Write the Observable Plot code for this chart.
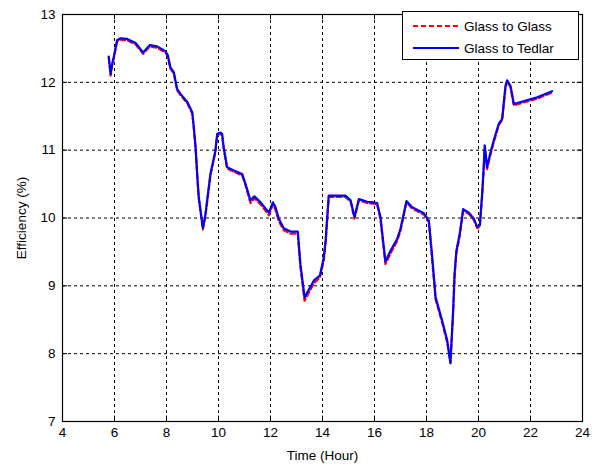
<!DOCTYPE html>
<html><head><meta charset="utf-8">
<script src="https://cdn.jsdelivr.net/npm/d3@7"></script>
<script src="https://cdn.jsdelivr.net/npm/@observablehq/plot@0.6"></script>
<style>
body{margin:0;background:#fff;font-family:"Liberation Sans",Arial,sans-serif}
#wrap{position:relative;width:594px;height:466px}
#legend{position:absolute;left:402px;top:11px;width:177px;height:49px;border:1px solid #000;background:#fff;box-sizing:border-box}
#legend svg{display:block}
</style></head>
<body><div id="wrap"><div id="chart"></div><div id="legend"></div></div>
<script>
const time = [5.78,5.85,5.91,5.97,6.10,6.23,6.49,6.81,7.10,7.36,7.64,7.96,8.05,8.15,8.28,8.41,8.54,8.80,8.99,9.05,9.12,9.18,9.24,9.31,9.40,9.50,9.69,9.88,9.95,10.08,10.14,10.20,10.33,10.59,10.91,11.04,11.23,11.38,11.62,11.94,12.09,12.19,12.32,12.51,12.77,13.05,13.15,13.31,13.67,13.90,14.05,14.12,14.24,14.88,15.08,15.23,15.40,15.72,15.97,16.10,16.23,16.42,16.62,16.87,17.00,17.23,17.45,17.90,18.09,18.22,18.35,18.60,18.80,18.92,19.03,19.08,19.15,19.28,19.41,19.63,19.82,19.95,20.05,20.14,20.20,20.24,20.33,20.45,20.59,20.78,20.91,21.04,21.10,21.23,21.36,21.62,22.26,22.83];
const glassToTedlar = [12.38,12.12,12.27,12.37,12.62,12.65,12.64,12.58,12.44,12.55,12.53,12.46,12.40,12.22,12.15,11.90,11.83,11.71,11.56,11.34,11.04,10.65,10.31,10.11,9.85,10.06,10.65,10.99,11.24,11.26,11.24,11.04,10.75,10.70,10.65,10.50,10.26,10.32,10.23,10.08,10.23,10.16,9.99,9.85,9.80,9.80,9.32,8.83,9.08,9.15,9.42,9.67,10.33,10.33,10.26,10.02,10.28,10.24,10.23,10.22,10.01,9.36,9.52,9.69,9.84,10.25,10.16,10.07,9.96,9.42,8.83,8.49,8.19,7.86,8.68,9.18,9.52,9.77,10.13,10.08,9.99,9.87,9.89,10.36,10.75,11.07,10.75,10.95,11.15,11.39,11.46,11.95,12.03,11.95,11.68,11.71,11.78,11.87];
const glassToGlass = [12.36,12.10,12.25,12.35,12.60,12.63,12.62,12.56,12.42,12.53,12.51,12.44,12.38,12.20,12.13,11.88,11.81,11.69,11.54,11.32,11.02,10.63,10.29,10.09,9.83,10.04,10.63,10.97,11.22,11.24,11.22,11.02,10.73,10.68,10.63,10.48,10.22,10.29,10.20,10.04,10.20,10.12,9.95,9.82,9.77,9.77,9.28,8.78,9.04,9.12,9.38,9.63,10.31,10.31,10.24,9.99,10.26,10.22,10.21,10.20,9.98,9.32,9.48,9.66,9.81,10.23,10.14,10.05,9.94,9.38,8.80,8.46,8.16,7.86,8.64,9.14,9.48,9.74,10.11,10.06,9.97,9.85,9.87,10.32,10.71,11.03,10.72,10.92,11.12,11.37,11.44,11.93,12.01,11.93,11.66,11.69,11.76,11.85];
const xTicks = [4,6,8,10,12,14,16,18,20,22,24];
const yTicks = [7,8,9,10,11,12,13];
const seriesNames = ["Glass to Glass","Glass to Tedlar"];
const seriesColors = ["#ff0000","#0000ff"];

const g2g = time.map((t,i)=>({t, v: glassToGlass[i]}));
const g2t = time.map((t,i)=>({t, v: glassToTedlar[i]}));
const font = "Liberation Sans, Arial, sans-serif";

const chart = Plot.plot({
  width: 594, height: 466,
  marginLeft: 62, marginRight: 12, marginTop: 14, marginBottom: 45,
  style: {fontFamily: font, fontSize: "13.5px", color: "#000", background: "#fff"},
  x: {domain: [4,24], ticks: xTicks},
  y: {domain: [7,13], ticks: yTicks},
  marks: [
    Plot.ruleX(xTicks.slice(1,-1), {stroke: "#000", strokeDasharray: "3,3", strokeWidth: 1}),
    Plot.ruleY(yTicks.slice(1,-1), {stroke: "#000", strokeDasharray: "3,3", strokeWidth: 1}),
    Plot.ruleX(xTicks, {y1: 7, y2: 7.08, stroke: "#000"}),
    Plot.ruleX(xTicks, {y1: 12.92, y2: 13, stroke: "#000"}),
    Plot.ruleY(yTicks, {x1: 4, x2: 4.2, stroke: "#000"}),
    Plot.ruleY(yTicks, {x1: 23.8, x2: 24, stroke: "#000"}),
    Plot.line(g2g, {x: "t", y: "v", stroke: seriesColors[0], strokeWidth: 2.2, strokeDasharray: "5,3"}),
    Plot.line(g2t, {x: "t", y: "v", stroke: seriesColors[1], strokeWidth: 2.2}),
    Plot.frame({stroke: "#000", strokeWidth: 1.2}),
    Plot.axisX({ticks: xTicks, tickFormat: d3.format("d"), tickSize: 0, tickPadding: 6, label: "Time (Hour)", labelAnchor: "center", labelOffset: 38, labelArrow: false}),
    Plot.axisY({ticks: yTicks, tickFormat: d3.format("d"), tickSize: 0, tickPadding: 7, label: "Efficiency (%)", labelAnchor: "center", labelOffset: 46, labelArrow: false})
  ]
});
document.getElementById("chart").appendChild(chart);

const lg = d3.select("#legend").append("svg").attr("width", 175).attr("height", 47)
  .style("font-family", font).style("font-size", "13.5px");
seriesNames.forEach((name, i) => {
  const y = 14 + i * 22;
  lg.append("line").attr("x1", 10).attr("x2", 56).attr("y1", y).attr("y2", y)
    .attr("stroke", seriesColors[i]).attr("stroke-width", 2.2)
    .attr("stroke-dasharray", i === 0 ? "5,3" : null);
  lg.append("text").attr("x", 61).attr("y", y + 5).text(name);
});
</script></body></html>
